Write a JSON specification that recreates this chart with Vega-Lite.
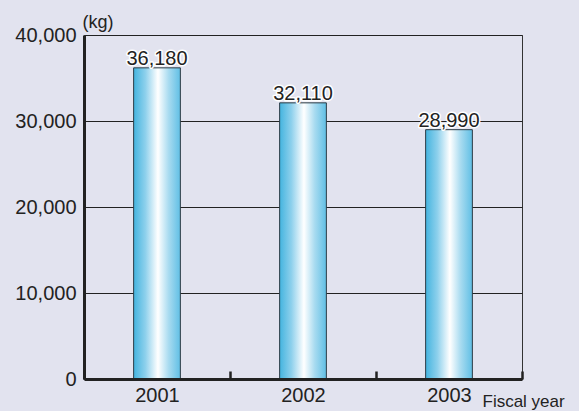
{
  "$schema": "https://vega.github.io/schema/vega-lite/v6.json",
  "width": 438,
  "height": 344,
  "autosize": {"type": "none"},
  "padding": {"left": 84, "top": 35, "right": 57, "bottom": 32},
  "background": "#e2e3ef",
  "config": {
    "font": "Liberation Sans",
    "view": {"stroke": "#333333", "strokeWidth": 1},
    "axis": {"labelColor": "#222222", "titleColor": "#222222", "labelFont": "Liberation Sans", "titleFont": "Liberation Sans"}
  },
  "data": {
    "values": [
      {"year": "2001", "kg": 36180},
      {"year": "2002", "kg": 32110},
      {"year": "2003", "kg": 28990}
    ]
  },
  "encoding": {
    "x": {
      "field": "year",
      "type": "nominal",
      "scale": {"paddingInner": 0, "paddingOuter": 0},
      "axis": {
        "title": "Fiscal year",
        "titleFontSize": 17,
        "titleFontWeight": "normal",
        "titleAlign": "left",
        "titleAnchor": "start",
        "titleBaseline": "alphabetic",
        "titleX": 398,
        "titleY": 27,
        "labelAngle": 0,
        "labelFontSize": 20,
        "labelPadding": 14,
        "labelBaseline": "top",
        "domainColor": "#222222",
        "domainWidth": 3,
        "tickBand": "extent",
        "tickSize": -8,
        "tickWidth": 2.5,
        "tickColor": "#222222",
        "zindex": 1
      }
    },
    "y": {
      "field": "kg",
      "type": "quantitative",
      "scale": {"domain": [0, 40000], "nice": false},
      "axis": {
        "title": "(kg)",
        "titleAngle": 0,
        "titleFontSize": 18,
        "titleFontWeight": "normal",
        "titleAlign": "left",
        "titleBaseline": "alphabetic",
        "titleX": -2,
        "titleY": -8,
        "values": [0, 10000, 20000, 30000, 40000],
        "format": ",d",
        "labelFontSize": 20,
        "labelPadding": 8,
        "ticks": false,
        "domainColor": "#222222",
        "domainWidth": 3,
        "grid": true,
        "gridColor": "#222222",
        "gridWidth": 1,
        "gridOpacity": 1
      }
    }
  },
  "layer": [
    {
      "mark": {
        "type": "bar",
        "width": {"band": 0.32},
        "stroke": "#2b3a44",
        "strokeWidth": 1,
        "color": {
          "gradient": "linear",
          "x1": 0, "x2": 1, "y1": 0, "y2": 0,
          "stops": [
            {"offset": 0, "color": "#44b4df"},
            {"offset": 0.25, "color": "#8dd0ec"},
            {"offset": 0.52, "color": "#ffffff"},
            {"offset": 0.75, "color": "#a8dbf0"},
            {"offset": 1, "color": "#60bfe5"}
          ]
        }
      }
    },
    {
      "mark": {"type": "text", "fontSize": 20, "baseline": "alphabetic", "dy": -3, "stroke": "#ffffff", "strokeWidth": 3, "strokeJoin": "round", "fill": "#ffffff"},
      "encoding": {"text": {"field": "kg", "type": "quantitative", "format": ",d"}}
    },
    {
      "mark": {"type": "text", "fontSize": 20, "baseline": "alphabetic", "dy": -3, "fill": "#222222"},
      "encoding": {"text": {"field": "kg", "type": "quantitative", "format": ",d"}}
    }
  ]
}
